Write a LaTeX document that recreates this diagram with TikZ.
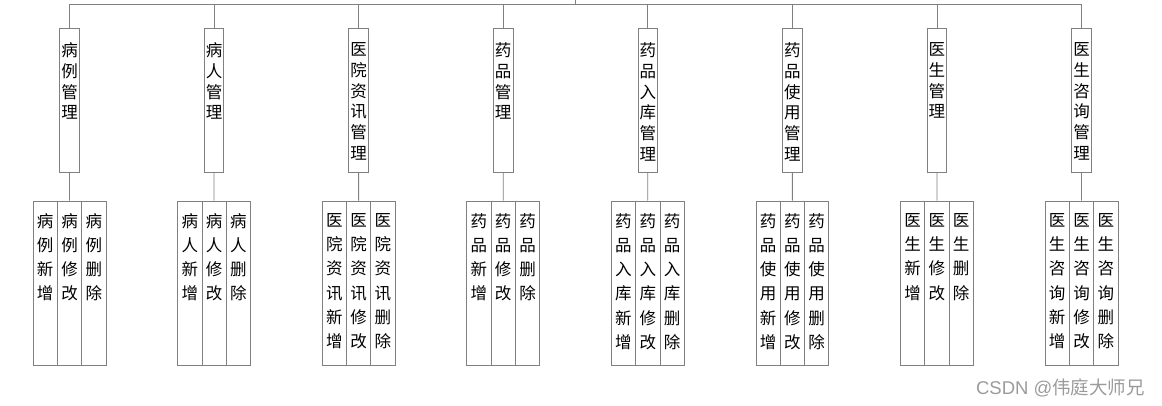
\documentclass[tikz,border=0pt]{standalone}
\usepackage{fontspec}
\setmainfont{Noto Sans CJK SC}
\newfontfamily\wmlatin{Liberation Sans}
\definecolor{linegray}{RGB}{128,128,128}
\definecolor{markgray}{RGB}{155,155,155}
\setlength{\parskip}{0pt}
\newcommand{\mgrtext}[1]{\parbox[c][144pt][t]{19.6pt}{\centering\fontsize{16.5pt}{20.7pt}\selectfont\vspace*{14.5pt}#1}}
\newcommand{\optext}[1]{\parbox[c][164pt][t]{24.3pt}{\centering\fontsize{16.5pt}{24.2pt}\selectfont\vspace*{12.5pt}#1}}

\begin{document}
\begin{tikzpicture}[x=1pt,y=1pt,
  mgrbox/.style={draw=linegray, line width=0.8pt, inner sep=0pt},
  opbox/.style={draw=linegray, line width=0.8pt, inner sep=0pt},
  edge from parent/.style={draw=linegray, line width=0.8pt},
  level 1/.style={level distance=100.3pt, sibling distance=144.57pt,
    edge from parent path={(\tikzparentnode) -- ++(0,-4) -| (\tikzchildnode.north)}},
  level 2/.style={level distance=182.7pt, sibling distance=24.3pt,
    edge from parent path={(\tikzparentnode.south) -- (\tikzchildnode.north)}}]
  \useasboundingbox (0,0) rectangle (1162,-406);
  \node[coordinate] (sys) at (575.5,0) {}
    child {node[mgrbox] (blgl) {\mgrtext{病\\例\\管\\理}}
      child {node[opbox] (blxz) {\optext{病\\例\\新\\增}} edge from parent[draw=none]}
      child {node[opbox] (blxg) {\optext{病\\例\\修\\改}}}
      child {node[opbox] (blsc) {\optext{病\\例\\删\\除}} edge from parent[draw=none]}}
    child {node[mgrbox] (brgl) {\mgrtext{病\\人\\管\\理}}
      child {node[opbox] (brxz) {\optext{病\\人\\新\\增}} edge from parent[draw=none]}
      child {node[opbox] (brxg) {\optext{病\\人\\修\\改}}}
      child {node[opbox] (brsc) {\optext{病\\人\\删\\除}} edge from parent[draw=none]}}
    child {node[mgrbox] (zxgl) {\mgrtext{医\\院\\资\\讯\\管\\理}}
      child {node[opbox] (zxxz) {\optext{医\\院\\资\\讯\\新\\增}} edge from parent[draw=none]}
      child {node[opbox] (zxxg) {\optext{医\\院\\资\\讯\\修\\改}}}
      child {node[opbox] (zxsc) {\optext{医\\院\\资\\讯\\删\\除}} edge from parent[draw=none]}}
    child {node[mgrbox] (ypgl) {\mgrtext{药\\品\\管\\理}}
      child {node[opbox] (ypxz) {\optext{药\\品\\新\\增}} edge from parent[draw=none]}
      child {node[opbox] (ypxg) {\optext{药\\品\\修\\改}}}
      child {node[opbox] (ypsc) {\optext{药\\品\\删\\除}} edge from parent[draw=none]}}
    child {node[mgrbox] (rkgl) {\mgrtext{药\\品\\入\\库\\管\\理}}
      child {node[opbox] (rkxz) {\optext{药\\品\\入\\库\\新\\增}} edge from parent[draw=none]}
      child {node[opbox] (rkxg) {\optext{药\\品\\入\\库\\修\\改}}}
      child {node[opbox] (rksc) {\optext{药\\品\\入\\库\\删\\除}} edge from parent[draw=none]}}
    child {node[mgrbox] (sygl) {\mgrtext{药\\品\\使\\用\\管\\理}}
      child {node[opbox] (syxz) {\optext{药\\品\\使\\用\\新\\增}} edge from parent[draw=none]}
      child {node[opbox] (syxg) {\optext{药\\品\\使\\用\\修\\改}}}
      child {node[opbox] (sysc) {\optext{药\\品\\使\\用\\删\\除}} edge from parent[draw=none]}}
    child {node[mgrbox] (ysgl) {\mgrtext{医\\生\\管\\理}}
      child {node[opbox] (ysxz) {\optext{医\\生\\新\\增}} edge from parent[draw=none]}
      child {node[opbox] (ysxg) {\optext{医\\生\\修\\改}}}
      child {node[opbox] (yssc) {\optext{医\\生\\删\\除}} edge from parent[draw=none]}}
    child {node[mgrbox] (zzgl) {\mgrtext{医\\生\\咨\\询\\管\\理}}
      child {node[opbox] (zzxz) {\optext{医\\生\\咨\\询\\新\\增}} edge from parent[draw=none]}
      child {node[opbox] (zzxg) {\optext{医\\生\\咨\\询\\修\\改}}}
      child {node[opbox] (zzsc) {\optext{医\\生\\咨\\询\\删\\除}} edge from parent[draw=none]}};
  % watermark
  \node[text=markgray, font=\fontsize{18.5pt}{18.5pt}\selectfont] (mark) at (1060.5,-388) {{\wmlatin CSDN @}伟庭大师兄};
\end{tikzpicture}
\end{document}
